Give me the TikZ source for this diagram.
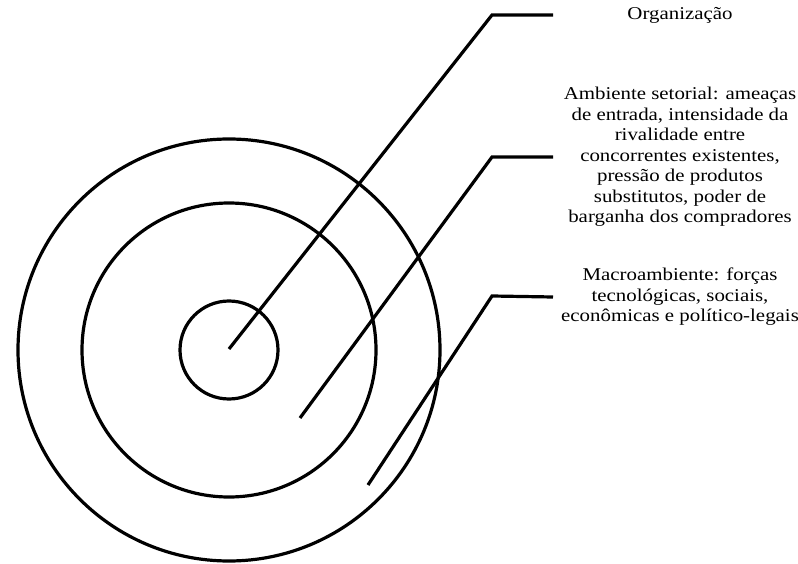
\documentclass[tikz,border=0pt]{standalone}
\usepackage{fontspec}
\setmainfont[FakeStretch=1.16]{Liberation Serif}

\begin{document}
\begin{tikzpicture}[
        x = 1pt, y = -1pt,
        ring/.style = {draw, circle, line width = 3.2pt, inner sep = 0pt},
        leader/.style = {line width = 3.2pt},
        note/.style = {align = center, inner sep = 0pt, font = \fontsize{18}{20.5}\selectfont}
    ]

    \useasboundingbox (0,0) rectangle (798,564);

    % the three rings
    \node[ring, minimum size = 98pt]  (org)    at (229,350) {};
    \node[ring, minimum size = 294pt] (sector) at (229,350) {};
    \node[ring, minimum size = 422pt] (macro)  at (229,350) {};

    % texts
    \node[note] (orgText)    at (680,15)  {Organização};
    \node[note] (sectorText) at (680,157) {Ambiente setorial: ameaças\\de entrada, intensidade da\\rivalidade entre\\concorrentes existentes,\\pressão de produtos\\substitutos, poder de\\barganha dos compradores};
    \node[note] (macroText)  at (680,297) {Macroambiente: forças\\tecnológicas, sociais,\\econômicas e político-legais};

    % leader lines
    \coordinate (orgIn)    at (229,349);
    \coordinate (sectorIn) at (300,418);
    \coordinate (macroIn)  at (368,485);

    \draw[leader] (orgIn)    -- (492,15)  -- (orgText.west -| 553,0);
    \draw[leader] (sectorIn) -- (492,157) -- (sectorText.west -| 553,0);
    \draw[leader] (macroIn)  -- (492,296) -- (macroText.west -| 553,0);

\end{tikzpicture}
\end{document}
